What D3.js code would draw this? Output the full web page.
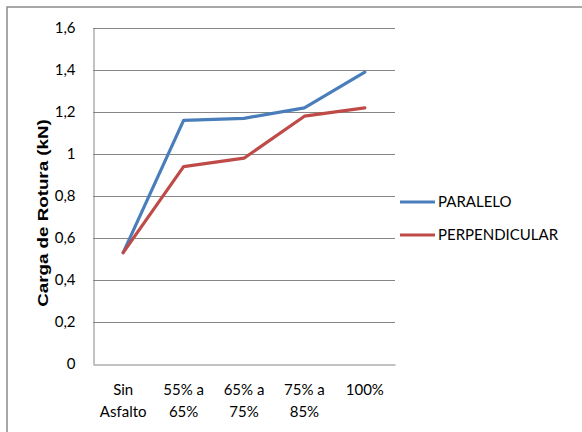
<!DOCTYPE html>
<html><head><meta charset="utf-8">
<script src="https://cdn.jsdelivr.net/npm/d3@7"></script>
<style>body{margin:0;background:#fff}svg{display:block}</style>
</head><body>
<svg id="c" width="582" height="432"></svg>
<script>
const categories = [["Sin","Asfalto"],["55% a","65%"],["65% a","75%"],["75% a","85%"],["100%"]];
const seriesNames = ["PARALELO","PERPENDICULAR"];
const paralelo = [0.53,1.16,1.17,1.22,1.39];
const perpendicular = [0.53,0.94,0.98,1.18,1.22];
const yTicks = [0,0.2,0.4,0.6,0.8,1,1.2,1.4,1.6];
const yTitle = "Carga de Rotura (kN)";
const colors = ["#4a7ebb","#be4b48"];

const svg = d3.select("#c");
// outer chart border
svg.append("path").attr("d","M7,432 V7 H582").attr("fill","none").attr("stroke","#8a8a8a").attr("stroke-width",1.5);

const L=93, R=395, T=28, B=364;
const x = d3.scaleBand().domain(d3.range(categories.length)).range([L,R]);
const y = d3.scaleLinear().domain([0,1.6]).range([B,T]);
const fmt = d => String(d).replace(".",",");

// gridlines
svg.append("g").selectAll("line").data(yTicks.filter(d=>d>0)).join("line")
  .attr("x1",L).attr("x2",R).attr("y1",d=>Math.round(y(d))+0.5).attr("y2",d=>Math.round(y(d))+0.5)
  .attr("stroke","#868686").attr("stroke-width",1);
// axes
const ya = svg.append("g").attr("transform",`translate(${L+0.5},0)`).call(d3.axisLeft(y).tickValues(yTicks).tickSize(0).tickPadding(18).tickFormat(fmt));
ya.select(".domain").attr("stroke","#868686");
ya.selectAll("text").attr("font-family","Lato").attr("font-size",15).attr("fill","#000")
  .attr("transform","scale(1,1.0)");
const xa = svg.append("g").attr("transform",`translate(0,${B+0.5})`).call(d3.axisBottom(x).tickSize(0).tickFormat(""));
xa.select(".domain").attr("stroke","#868686");
xa.selectAll(".tick").each(function(i){
  const t = d3.select(this).append("text").attr("font-family","Lato").attr("font-size",15).attr("fill","#000").attr("text-anchor","middle");
  categories[i].forEach((s,k)=>t.append("tspan").attr("x",0).attr("y",30+k*22).text(s));
});

// y title
svg.append("text").attr("transform","translate(48,213) scale(1,1.25) rotate(-90)")
  .attr("text-anchor","middle").attr("font-family","Liberation Sans").attr("font-weight","bold")
  .attr("font-size",15).attr("fill","#000").text(yTitle);

// lines
const line = d3.line().x((d,i)=>x(i)+x.bandwidth()/2).y(d=>y(d)).curve(d3.curveLinear);
[paralelo,perpendicular].forEach((s,k)=>{
  svg.append("path").datum(s).attr("d",line).attr("fill","none").attr("stroke",colors[k])
    .attr("stroke-width",3.2).attr("stroke-linejoin","round").attr("stroke-linecap","round");
});

// legend
const lg = svg.append("g");
seriesNames.forEach((n,k)=>{
  const yy = 202 + k*33;
  lg.append("line").attr("x1",400).attr("x2",435).attr("y1",yy).attr("y2",yy).attr("stroke",colors[k]).attr("stroke-width",3.2);
  lg.append("text").attr("x",438).attr("y",yy).attr("dy","0.36em").attr("font-family","Lato").attr("font-size",15).attr("fill","#000").text(n);
});
</script>
</body></html>
